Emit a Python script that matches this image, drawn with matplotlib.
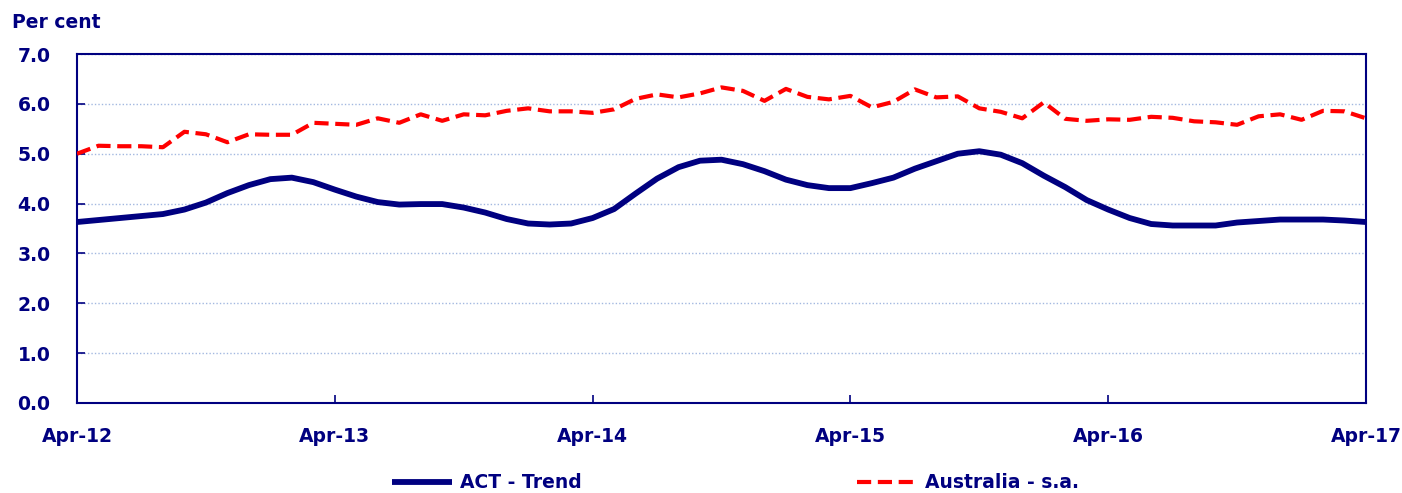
import matplotlib
matplotlib.use("Agg")
import matplotlib.pyplot as plt

# monthly, Apr-12 .. Apr-17
act_trend = [3.63, 3.67, 3.71, 3.75, 3.79, 3.88, 4.02, 4.21, 4.37, 4.49,
             4.52, 4.43, 4.28, 4.14, 4.03, 3.98, 3.99, 3.99, 3.92, 3.82,
             3.69, 3.60, 3.58, 3.60, 3.71, 3.89, 4.20, 4.50, 4.73, 4.86,
             4.88, 4.79, 4.65, 4.48, 4.37, 4.31, 4.31, 4.41, 4.52, 4.70,
             4.85, 5.00, 5.05, 4.98, 4.81, 4.56, 4.33, 4.07, 3.88, 3.71,
             3.59, 3.56, 3.56, 3.56, 3.62, 3.65, 3.68, 3.68, 3.68, 3.66,
             3.63]
aus_sa = [5.00, 5.16, 5.15, 5.15, 5.13, 5.44, 5.39, 5.23, 5.39, 5.38,
          5.38, 5.62, 5.60, 5.58, 5.71, 5.62, 5.79, 5.66, 5.79, 5.77,
          5.86, 5.91, 5.85, 5.85, 5.82, 5.89, 6.10, 6.19, 6.13, 6.21,
          6.33, 6.26, 6.06, 6.30, 6.14, 6.09, 6.16, 5.93, 6.04, 6.29,
          6.13, 6.15, 5.91, 5.84, 5.71, 6.03, 5.70, 5.66, 5.69, 5.68,
          5.74, 5.72, 5.65, 5.63, 5.58, 5.75, 5.79, 5.68, 5.86, 5.85,
          5.71]
xlabels = ["Apr-12", "Apr-13", "Apr-14", "Apr-15", "Apr-16", "Apr-17"]
yticks = [0, 1, 2, 3, 4, 5, 6, 7]

navy = "#000080"
fs = 13.5
plt.rcParams["font.family"] = ["DejaVu Sans"]
plt.rcParams["font.weight"] = "bold"

fig = plt.figure(figsize=(14.02, 4.93), dpi=100)
ax = fig.add_axes([77/1402, 90/493, 1289/1402, 349/493])

months = list(range(len(act_trend)))
ax.plot(months, act_trend, color=navy, lw=4.2, label="ACT - Trend",
        solid_capstyle="butt", zorder=3)
ax.plot(months, aus_sa, color="#ff0000", lw=3.0, label="Australia - s.a.",
        dashes=(3.4, 1.6), zorder=3)

ax.set_xlim(0, 60)
ax.set_ylim(0, 7)
ax.set_xticks(range(0, 61, 12))
ax.set_xticklabels(xlabels)
ax.set_yticks(yticks)
ax.set_yticklabels(["%.1f" % v for v in yticks])
ax.tick_params(axis="both", direction="in", colors=navy, labelsize=fs,
               width=1.2, length=6)
ax.tick_params(axis="y", pad=19)
ax.tick_params(axis="x", pad=17)
for lab in ax.get_xticklabels() + ax.get_yticklabels():
    lab.set_fontweight("bold")
for s in ax.spines.values():
    s.set_color(navy)
    s.set_linewidth(1.5)
ax.grid(axis="y", color="#a3b8e0", ls=(0, (1, 1.5)), lw=1.0)
ax.set_axisbelow(True)

fig.text(12/1402, 1 - 22/493, "Per cent", color=navy, fontsize=fs,
         fontweight="bold", va="center", ha="left")

leg = fig.legend(loc="center", bbox_to_anchor=(0.5246, 1 - 483/493), ncol=2,
                 frameon=False, fontsize=fs, handlelength=3.2,
                 handletextpad=0.4, columnspacing=14.7)
for t in leg.get_texts():
    t.set_color(navy)
    t.set_fontweight("bold")

fig.savefig("out.png", dpi=100)
